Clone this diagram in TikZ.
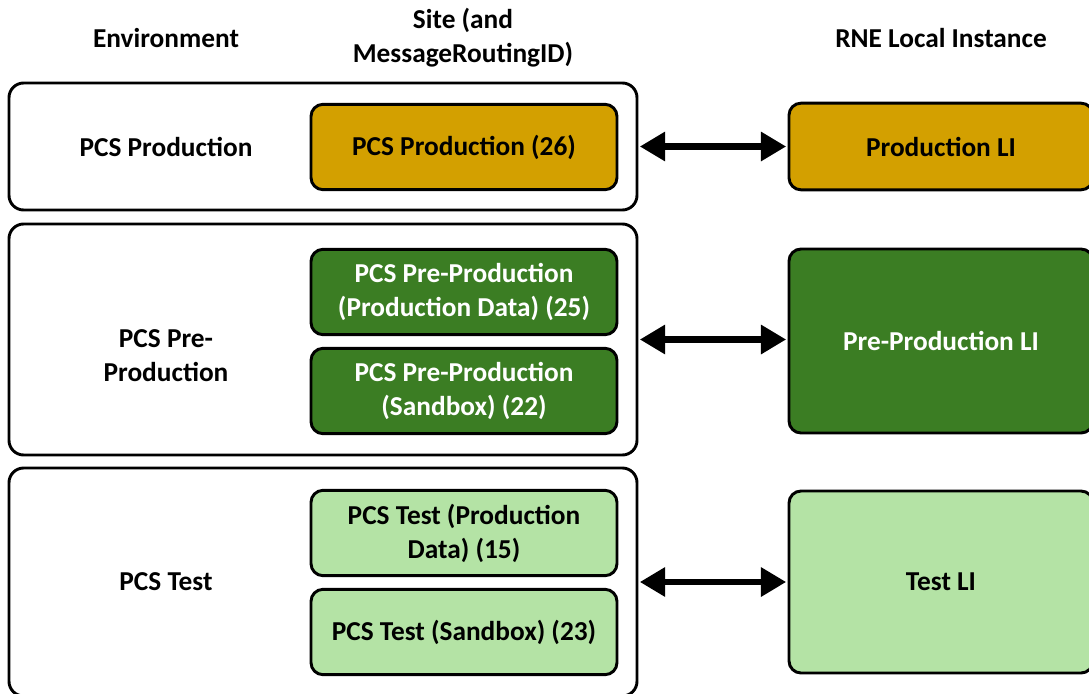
\documentclass[tikz,border=0pt]{standalone}
\usepackage{fontspec}
\setmainfont{Carlito}
\usetikzlibrary{positioning, arrows.meta, calc}
\definecolor{prodgold}{HTML}{D3A000}
\definecolor{preprodgreen}{HTML}{3B7D23}
\definecolor{testgreen}{HTML}{B4E3A5}

\begin{document}
\begin{tikzpicture}[x=0.75pt, y=-0.75pt, every node/.style={font=\fontsize{20.5}{25.5}\selectfont\bfseries}]
    \useasboundingbox (0,0) rectangle (1089,693);
    % Estilos
    \tikzset{
      envbox/.style={draw=black, line width=2.2pt, rounded corners=11pt, minimum width=471pt, inner sep=0pt},
      sitebox/.style={draw=black, line width=2.2pt, rounded corners=9pt, minimum width=229.5pt, minimum height=64pt, align=center, inner sep=0pt},
      libox/.style={draw=black, line width=2.2pt, rounded corners=9pt, minimum width=228pt, align=center, inner sep=0pt},
      link/.style={{Triangle[length=19pt,width=21pt]}-{Triangle[length=19pt,width=21pt]}, line width=5.2pt, shorten <=1pt, shorten >=1pt}
    }
    % Cabeçalhos
    \node[align=center] (hEnv) at (166,38) {Environment};
    \node[align=center] (hSite) at (463,38) {Site (and\\MessageRoutingID)};
    \node[align=center] (hLI) at (941,38) {RNE Local Instance};
    % Ambientes
    \node[envbox, minimum height=95.25pt] (envProd) at (323,146.5) {};
    \node[envbox, minimum height=173.25pt] (envPre) at (323,339.5) {};
    \node[envbox, minimum height=171pt] (envTest) at (323,582) {};
    \node[align=center] (lProd) at (166,147) {PCS Production};
    \node[align=center] (lPre) at (166,356) {PCS Pre-\\Production};
    \node[align=center] (lTest) at (166,582) {PCS Test};
    % Sites
    \node[sitebox, fill=prodgold] (sProd) at (464,147) {PCS Production (26)};
    \node[sitebox, fill=preprodgreen, text=white] (sPreA) at (464,292) {PCS Pre-Production\\(Production Data) (25)};
    \node[sitebox, fill=preprodgreen, text=white] (sPreB) at (464,391) {PCS Pre-Production\\(Sandbox) (22)};
    \node[sitebox, fill=testgreen] (sTestA) at (464,533) {PCS Test (Production\\Data) (15)};
    \node[sitebox, fill=testgreen] (sTestB) at (464,632) {PCS Test (Sandbox) (23)};
    % Instâncias locais
    \node[libox, fill=prodgold, minimum height=65pt] (liProd) at (941,146.5) {Production LI};
    \node[libox, fill=preprodgreen, text=white, minimum height=138pt] (liPre) at (941,341) {Pre-Production LI};
    \node[libox, fill=testgreen, minimum height=136.5pt] (liTest) at (941,582) {Test LI};
    % Ligações
    \draw[link] (envProd.east) -- (envProd.east -| liProd.west);
    \draw[link] (envPre.east) -- (envPre.east -| liPre.west);
    \draw[link] (envTest.east) -- (envTest.east -| liTest.west);
\end{tikzpicture}
\end{document}
